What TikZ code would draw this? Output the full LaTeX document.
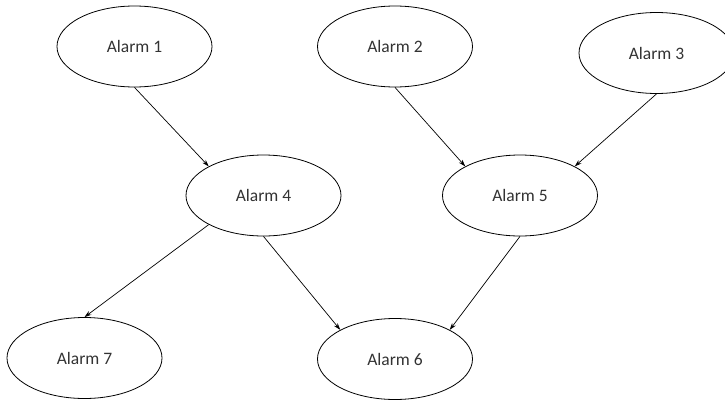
\documentclass[tikz,border=0pt]{standalone}
\usepackage{fontspec}
\setmainfont{Carlito}
\usepackage{tikz}
\usetikzlibrary{positioning, shapes.geometric, arrows.meta}

\begin{document}
\begin{tikzpicture}[on grid, >={Stealth[length=7pt,width=4.5pt]},
		alarm/.style={ellipse, draw, line width=0.8pt, minimum width=155pt, minimum height=81pt, text=black!80, font=\fontsize{17.5}{21}\selectfont}]
			\useasboundingbox (-134.5pt,46.5pt) rectangle (590.5pt,-352.5pt);
			\node[alarm] (a1) at (0,0) {Alarm 1};
			\node[alarm, right=260.5pt of a1]  (a2)  {Alarm 2};
			\node[alarm, below right=6.5pt and 261.5pt of a2]  (a3)  {Alarm 3};
			\node[alarm, below right=149pt and 129pt of a1]  (a4)  {Alarm 4};
			\node[alarm, right=256.5pt of a4]  (a5)  {Alarm 5};
			\node[alarm, below right=163.5pt and 131.5pt of a4]  (a6)  {Alarm 6};
			\node[alarm, below left=162.5pt and 179pt of a4]  (a7)  {Alarm 7};

			\draw[->, line width=0.7pt] (a1.south) -- (a4.152);
			\draw[->, line width=0.7pt] (a2.south) -- (a5.152);
			\draw[->, line width=0.7pt] (a3.south) -- (a5.28);
			\draw[->, line width=0.7pt] (a4.208) -- (a7.north);
			\draw[->, line width=0.7pt] (a4.south) -- (a6.152);
			\draw[->, line width=0.7pt] (a5.south) -- (a6.28);
		\end{tikzpicture}
\end{document}
